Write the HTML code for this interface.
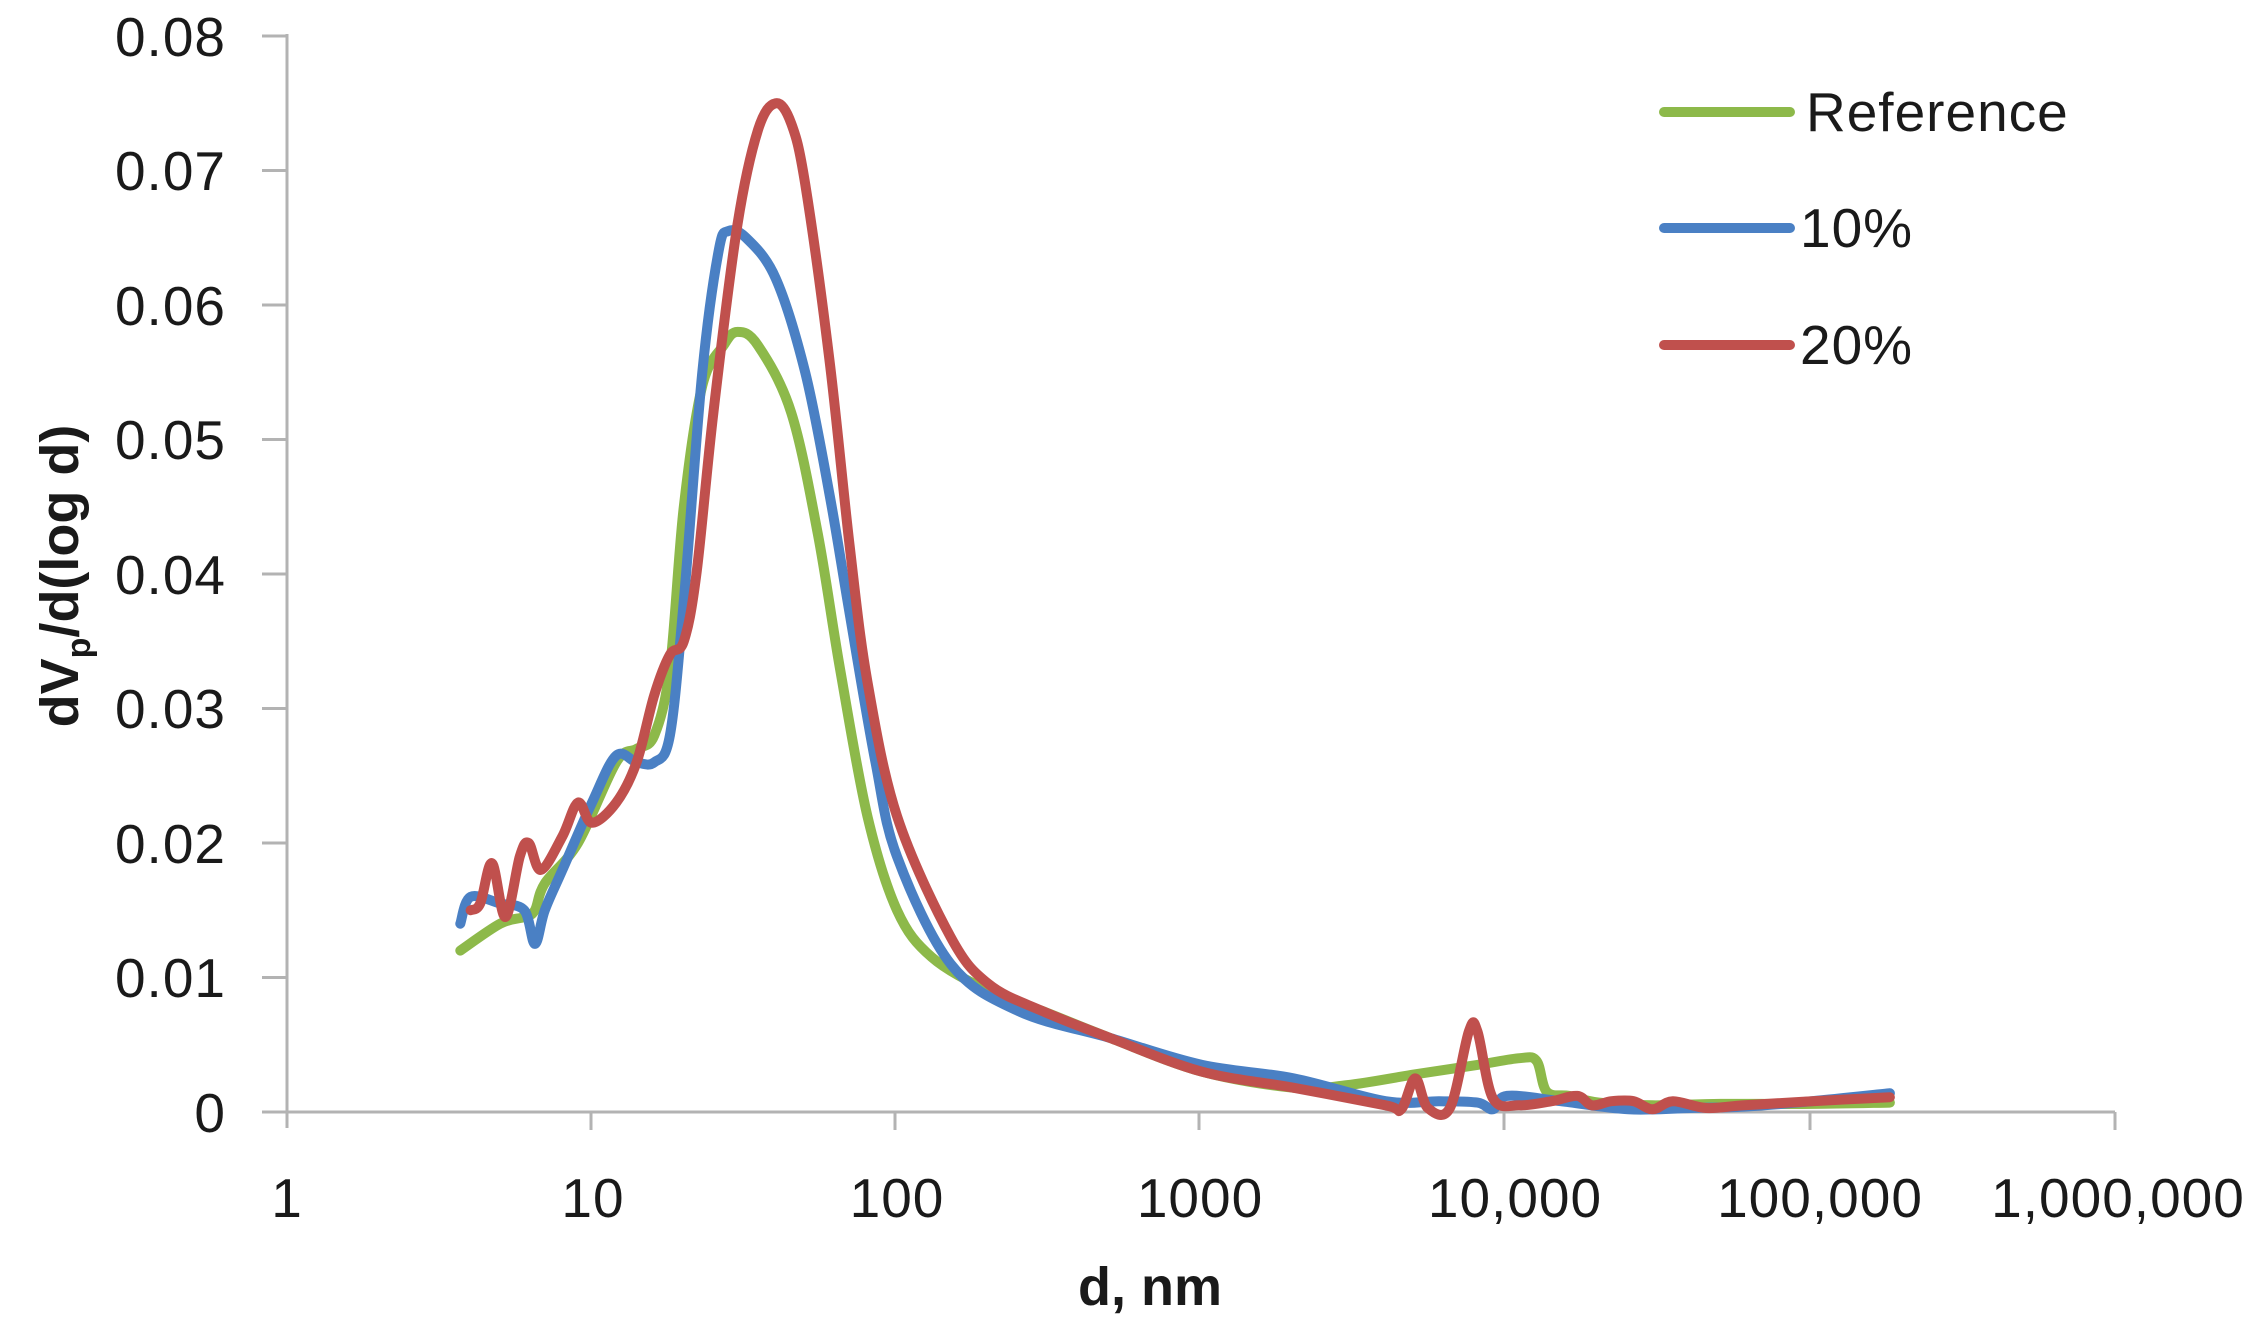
<!DOCTYPE html>
<html><head><meta charset="utf-8"><style>
html,body{margin:0;padding:0;background:#fff;}
svg{display:block;}
text{font-family:"Liberation Sans",sans-serif;fill:#1a1a1a;}
</style></head><body>
<svg id="s" width="2256" height="1340" viewBox="0 0 2256 1340" xmlns="http://www.w3.org/2000/svg">
<g stroke="#b3b3b3" stroke-width="3" fill="none">
<line x1="287" y1="34" x2="287" y2="1128"/>
<line x1="262" y1="1112" x2="2115" y2="1112"/>
<line x1="262" y1="36" x2="287" y2="36"/><line x1="262" y1="170.5" x2="287" y2="170.5"/>
<line x1="262" y1="305" x2="287" y2="305"/><line x1="262" y1="439.5" x2="287" y2="439.5"/>
<line x1="262" y1="574" x2="287" y2="574"/><line x1="262" y1="708.5" x2="287" y2="708.5"/>
<line x1="262" y1="843" x2="287" y2="843"/><line x1="262" y1="977.5" x2="287" y2="977.5"/>
<line x1="591" y1="1112" x2="591" y2="1130"/><line x1="895" y1="1112" x2="895" y2="1130"/>
<line x1="1199" y1="1112" x2="1199" y2="1130"/><line x1="1504" y1="1112" x2="1504" y2="1130"/>
<line x1="1810" y1="1112" x2="1810" y2="1130"/><line x1="2115" y1="1112" x2="2115" y2="1130"/>
</g>
<g font-size="55" text-anchor="end" letter-spacing="1">
<text x="226" y="56">0.08</text><text x="226" y="190">0.07</text><text x="226" y="325">0.06</text>
<text x="226" y="459">0.05</text><text x="226" y="594">0.04</text><text x="226" y="728">0.03</text>
<text x="226" y="863">0.02</text><text x="226" y="997">0.01</text><text x="226" y="1132">0</text>
</g>
<g font-size="55" text-anchor="middle" letter-spacing="1">
<text x="287" y="1217">1</text><text x="593" y="1217">10</text><text x="897" y="1217">100</text>
<text x="1200" y="1217">1000</text><text x="1515" y="1217">10,000</text><text x="1820" y="1217">100,000</text>
<text x="2118" y="1217">1,000,000</text>
</g>
<text x="1150" y="1305" font-size="54" font-weight="bold" text-anchor="middle">d, nm</text>
<text transform="translate(78,576) rotate(-90)" font-size="54" font-weight="bold" text-anchor="middle">dV<tspan font-size="34" dy="12">p</tspan><tspan dy="-12">/d(log d)</tspan></text>
<g stroke-width="10" stroke-linecap="round">
<line x1="1664" y1="112" x2="1790" y2="112" stroke="#8db94a"/>
<line x1="1664" y1="228" x2="1790" y2="228" stroke="#4a80c4"/>
<line x1="1664" y1="345" x2="1790" y2="345" stroke="#c0504d"/>
</g>
<g font-size="55" letter-spacing="1">
<text x="1806" y="131">Reference</text><text x="1800" y="247">10%</text><text x="1800" y="364">20%</text>
</g>
<g id="curves" fill="none" stroke-width="10" stroke-linejoin="round" stroke-linecap="round"></g>
</svg>
<script>
var G=[[3.7,.012],[5,.014],[6,.0145],[6.5,.015],[7,.017],[9,.020],[12,.026],[14,.027],[16,.028],[18,.033],[20,.045],[23,.054],[27,.057],[30,.058],[35,.057],[45,.052],[55,.043],[65,.033],[80,.022],[100,.015],[130,.0115],[200,.009],[300,.0075],[500,.0055],[1000,.003],[2000,.0018],[3000,.002],[5000,.0028],[8000,.0035],[11000,.004],[12500,.0038],[13500,.0015],[16000,.0012],[20000,.0007],[30000,.0005],[50000,.0006],[100000,.0006],[180000,.0007]];
var B=[[3.7,.014],[4,.016],[5,.0155],[6,.015],[6.5,.0125],[7,.015],[8,.018],[10,.023],[12,.0265],[14,.026],[16,.026],[18,.028],[20,.038],[23,.055],[26,.064],[28,.0655],[32,.065],[40,.062],[50,.055],[60,.046],[70,.037],[85,.026],[100,.019],[150,.011],[250,.0075],[500,.0055],[1000,.0035],[2000,.0025],[4000,.0008],[6000,.0008],[8000,.0007],[9000,.0002],[10000,.0012],[15000,.0008],[25000,.0002],[40000,.0003],[60000,.0004],[100000,.0008],[180000,.0014]];
var R=[[4,.015],[4.3,.0155],[4.7,.0185],[5.2,.0145],[5.8,.019],[6.2,.02],[6.8,.018],[8,.0205],[9,.023],[10,.0215],[12,.023],[14,.026],[16,.031],[18,.034],[20,.035],[22,.04],[25,.052],[30,.066],[35,.073],[40,.075],[45,.0735],[50,.069],[60,.056],[70,.042],[80,.032],[100,.022],[150,.013],[200,.0095],[300,.0075],[500,.0055],[1000,.003],[2000,.0018],[4000,.0005],[4500,.0002],[5000,.0025],[5500,.0003],[6500,.0003],[7500,.006],[8000,.006],[9000,.001],[11000,.0005],[14000,.0008],[17000,.0012],[19000,.0005],[22000,.0008],[26000,.0008],[30000,.0002],[35000,.0008],[45000,.0003],[60000,.0005],[100000,.0008],[180000,.0011]];
function P(d){return d.map(function(p){return [287+305*Math.log10(p[0]),1112-13450*p[1]];});}
function path(pts){var s="M"+pts[0][0].toFixed(1)+","+pts[0][1].toFixed(1);
for(var i=0;i<pts.length-1;i++){var p0=pts[i-1]||pts[i],p1=pts[i],p2=pts[i+1],p3=pts[i+2]||p2;
var c1=[p1[0]+(p2[0]-p0[0])/6,p1[1]+(p2[1]-p0[1])/6],c2=[p2[0]-(p3[0]-p1[0])/6,p2[1]-(p3[1]-p1[1])/6];
s+="C"+c1[0].toFixed(1)+","+c1[1].toFixed(1)+" "+c2[0].toFixed(1)+","+c2[1].toFixed(1)+" "+p2[0].toFixed(1)+","+p2[1].toFixed(1);}
return s;}
var g=document.getElementById("curves"),ns="http://www.w3.org/2000/svg";
[[G,"#8db94a"],[B,"#4a80c4"],[R,"#c0504d"]].forEach(function(x){var e=document.createElementNS(ns,"path");e.setAttribute("d",path(P(x[0])));e.setAttribute("stroke",x[1]);g.appendChild(e);});
</script>
</body></html>
